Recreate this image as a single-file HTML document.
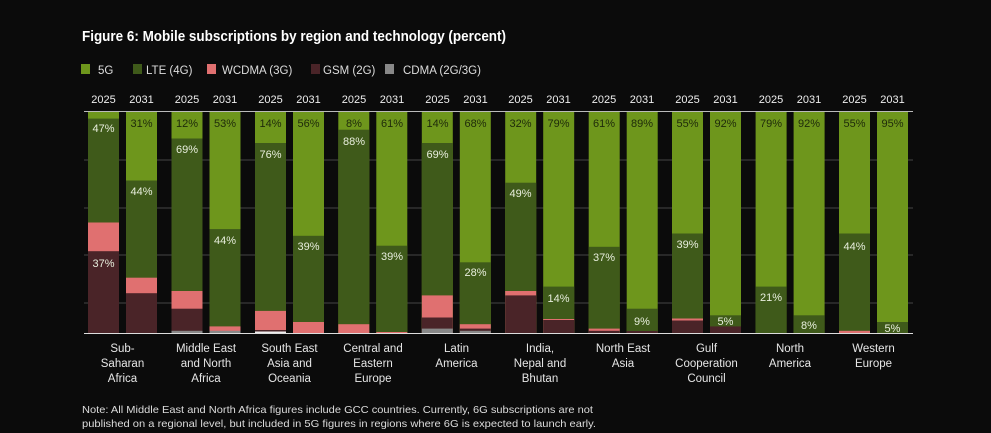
<!DOCTYPE html>
<html><head><meta charset="utf-8"><style>
html,body{margin:0;padding:0;background:#0b0b0b;}
svg{display:block;font-family:"Liberation Sans",sans-serif;}
</style></head><body>
<svg width="991" height="433" viewBox="0 0 991 433" xmlns="http://www.w3.org/2000/svg">
<rect width="991" height="433" fill="#0b0b0b"/>
<text x="82" y="41" fill="#fff" font-size="14.5" font-weight="bold" textLength="424" lengthAdjust="spacingAndGlyphs">Figure 6: Mobile subscriptions by region and technology (percent)</text>
<g font-size="11.5" fill="#ddd">
<rect x="81" y="64" width="9" height="10" fill="#6e961c"/><text x="98" y="74">5G</text>
<rect x="133" y="64" width="9" height="10" fill="#3f5a1a"/><text x="146" y="74">LTE (4G)</text>
<rect x="207" y="64" width="9" height="10" fill="#e07070"/><text x="222" y="74">WCDMA (3G)</text>
<rect x="311" y="64" width="9" height="10" fill="#4a2428"/><text x="323" y="74">GSM (2G)</text>
<rect x="385" y="64" width="9" height="10" fill="#888"/><text x="403" y="74">CDMA (2G/3G)</text>
</g>
<g stroke="#444" stroke-width="1">
<line x1="84" y1="160" x2="913" y2="160"/><line x1="84" y1="208" x2="913" y2="208"/>
<line x1="84" y1="255" x2="913" y2="255"/><line x1="84" y1="303" x2="913" y2="303"/>
</g>
<line x1="84" y1="111.5" x2="913" y2="111.5" stroke="#bbb" stroke-width="1"/>
<g font-size="11" fill="#eee" text-anchor="middle">
<text x="103.5" y="103">2025</text><text x="141.5" y="103">2031</text>
<text x="187" y="103">2025</text><text x="225" y="103">2031</text>
<text x="270.5" y="103">2025</text><text x="308.5" y="103">2031</text>
<text x="354" y="103">2025</text><text x="392" y="103">2031</text>
<text x="437.5" y="103">2025</text><text x="475.5" y="103">2031</text>
<text x="520.5" y="103">2025</text><text x="558.5" y="103">2031</text>
<text x="604" y="103">2025</text><text x="642" y="103">2031</text>
<text x="687.5" y="103">2025</text><text x="725.5" y="103">2031</text>
<text x="771" y="103">2025</text><text x="809" y="103">2031</text>
<text x="854.5" y="103">2025</text><text x="892.5" y="103">2031</text>
</g>
<g>
<rect x="88" y="112" width="31" height="221" fill="#6e961c"/><rect x="88" y="118.6" width="31" height="214.4" fill="#3f5a1a"/><rect x="88" y="222.5" width="31" height="110.5" fill="#e07070"/><rect x="88" y="251.2" width="31" height="81.8" fill="#4a2428"/>
<rect x="126" y="112" width="31" height="221" fill="#6e961c"/><rect x="126" y="180.5" width="31" height="152.5" fill="#3f5a1a"/><rect x="126" y="277.7" width="31" height="55.3" fill="#e07070"/><rect x="126" y="293.2" width="31" height="39.8" fill="#4a2428"/>
<rect x="171.5" y="112" width="31" height="221" fill="#6e961c"/><rect x="171.5" y="138.5" width="31" height="194.5" fill="#3f5a1a"/><rect x="171.5" y="291" width="31" height="42" fill="#e07070"/><rect x="171.5" y="308.7" width="31" height="24.3" fill="#4a2428"/><rect x="171.5" y="330.8" width="31" height="2.2" fill="#888"/>
<rect x="209.5" y="112" width="31" height="221" fill="#6e961c"/><rect x="209.5" y="229.1" width="31" height="103.9" fill="#3f5a1a"/><rect x="209.5" y="326.4" width="31" height="6.6" fill="#e07070"/><rect x="209.5" y="330.8" width="31" height="2.2" fill="#888"/>
<rect x="255" y="112" width="31" height="221" fill="#6e961c"/><rect x="255" y="143" width="31" height="190" fill="#3f5a1a"/><rect x="255" y="310.9" width="31" height="22.1" fill="#e07070"/><rect x="255" y="330" width="31" height="1.5" fill="#4a2428"/><rect x="255" y="331.5" width="31" height="1.5" fill="#eee"/>
<rect x="293" y="112" width="31" height="221" fill="#6e961c"/><rect x="293" y="235.8" width="31" height="97.2" fill="#3f5a1a"/><rect x="293" y="322" width="31" height="11" fill="#e07070"/>
<rect x="338.3" y="112" width="31" height="221" fill="#6e961c"/><rect x="338.3" y="129.7" width="31" height="203.3" fill="#3f5a1a"/><rect x="338.3" y="324.2" width="31" height="8.8" fill="#e07070"/>
<rect x="376.3" y="112" width="31" height="221" fill="#6e961c"/><rect x="376.3" y="245.7" width="31" height="87.3" fill="#3f5a1a"/><rect x="376.3" y="332" width="31" height="1" fill="#e07070"/>
<rect x="421.8" y="112" width="31" height="221" fill="#6e961c"/><rect x="421.8" y="143" width="31" height="190" fill="#3f5a1a"/><rect x="421.8" y="295.4" width="31" height="37.6" fill="#e07070"/><rect x="421.8" y="317.5" width="31" height="15.5" fill="#4a2428"/><rect x="421.8" y="328.6" width="31" height="4.4" fill="#888"/>
<rect x="459.8" y="112" width="31" height="221" fill="#6e961c"/><rect x="459.8" y="262.3" width="31" height="70.7" fill="#3f5a1a"/><rect x="459.8" y="324.2" width="31" height="8.8" fill="#e07070"/><rect x="459.8" y="328.6" width="31" height="4.4" fill="#4a2428"/><rect x="459.8" y="330.8" width="31" height="2.2" fill="#888"/>
<rect x="505.2" y="112" width="31" height="221" fill="#6e961c"/><rect x="505.2" y="182.7" width="31" height="150.3" fill="#3f5a1a"/><rect x="505.2" y="291" width="31" height="42" fill="#e07070"/><rect x="505.2" y="295.4" width="31" height="37.6" fill="#4a2428"/>
<rect x="543.2" y="112" width="31" height="221" fill="#6e961c"/><rect x="543.2" y="286.6" width="31" height="46.4" fill="#3f5a1a"/><rect x="543.2" y="319" width="31" height="14" fill="#e07070"/><rect x="543.2" y="320" width="31" height="13" fill="#4a2428"/>
<rect x="588.7" y="112" width="31" height="221" fill="#6e961c"/><rect x="588.7" y="246.8" width="31" height="86.2" fill="#3f5a1a"/><rect x="588.7" y="328.6" width="31" height="4.4" fill="#e07070"/><rect x="588.7" y="330.8" width="31" height="2.2" fill="#4a2428"/>
<rect x="626.7" y="112" width="31" height="221" fill="#6e961c"/><rect x="626.7" y="308.7" width="31" height="24.3" fill="#3f5a1a"/><rect x="626.7" y="331" width="31" height="2" fill="#4a2428"/>
<rect x="672" y="112" width="31" height="221" fill="#6e961c"/><rect x="672" y="233.5" width="31" height="99.5" fill="#3f5a1a"/><rect x="672" y="318.5" width="31" height="14.5" fill="#e07070"/><rect x="672" y="320.5" width="31" height="12.5" fill="#4a2428"/>
<rect x="710" y="112" width="31" height="221" fill="#6e961c"/><rect x="710" y="315.3" width="31" height="17.7" fill="#3f5a1a"/><rect x="710" y="326.4" width="31" height="6.6" fill="#4a2428"/>
<rect x="755.6" y="112" width="31" height="221" fill="#6e961c"/><rect x="755.6" y="286.6" width="31" height="46.4" fill="#3f5a1a"/>
<rect x="793.6" y="112" width="31" height="221" fill="#6e961c"/><rect x="793.6" y="315.3" width="31" height="17.7" fill="#3f5a1a"/>
<rect x="839" y="112" width="31" height="221" fill="#6e961c"/><rect x="839" y="233.5" width="31" height="99.5" fill="#3f5a1a"/><rect x="839" y="330.8" width="31" height="2.2" fill="#e07070"/>
<rect x="877" y="112" width="31" height="221" fill="#6e961c"/><rect x="877" y="322" width="31" height="11" fill="#3f5a1a"/>
</g>
<line x1="84" y1="333.5" x2="913" y2="333.5" stroke="#ddd" stroke-width="1"/>
<g font-size="11" text-anchor="middle" fill="#1e2a0a">
<text x="141.5" y="127">31%</text>
<text x="187" y="127">12%</text><text x="225" y="127">53%</text>
<text x="270.5" y="127">14%</text><text x="308.5" y="127">56%</text>
<text x="354" y="127">8%</text><text x="392" y="127">61%</text>
<text x="437.5" y="127">14%</text><text x="475.5" y="127">68%</text>
<text x="520.5" y="127">32%</text><text x="558.5" y="127">79%</text>
<text x="604" y="127">61%</text><text x="642" y="127">89%</text>
<text x="687.5" y="127">55%</text><text x="725.5" y="127">92%</text>
<text x="771" y="127">79%</text><text x="809" y="127">92%</text>
<text x="854.5" y="127">55%</text><text x="892.5" y="127">95%</text>
</g>
<g font-size="11" text-anchor="middle" fill="#e8eedd">
<text x="103.5" y="132">47%</text><text x="103.5" y="267">37%</text>
<text x="141.5" y="195">44%</text>
<text x="187" y="153">69%</text><text x="225" y="244">44%</text>
<text x="270.5" y="158">76%</text><text x="308.5" y="250">39%</text>
<text x="354" y="145">88%</text><text x="392" y="260">39%</text>
<text x="437.5" y="158">69%</text><text x="475.5" y="276">28%</text>
<text x="520.5" y="197">49%</text><text x="558.5" y="302">14%</text>
<text x="604" y="261">37%</text><text x="642" y="325">9%</text>
<text x="687.5" y="248">39%</text><text x="725.5" y="325">5%</text>
<text x="771" y="301">21%</text><text x="809" y="329">8%</text>
<text x="854.5" y="250">44%</text><text x="892.5" y="332">5%</text>
</g>
<g font-size="11.5" text-anchor="middle" fill="#e6e6e6">
<text x="122.5" y="352">Sub-</text><text x="122.5" y="367">Saharan</text><text x="122.5" y="382">Africa</text>
<text x="206" y="352">Middle East</text><text x="206" y="367">and North</text><text x="206" y="382">Africa</text>
<text x="289.5" y="352">South East</text><text x="289.5" y="367">Asia and</text><text x="289.5" y="382">Oceania</text>
<text x="373" y="352">Central and</text><text x="373" y="367">Eastern</text><text x="373" y="382">Europe</text>
<text x="456.5" y="352">Latin</text><text x="456.5" y="367">America</text>
<text x="540" y="352">India,</text><text x="540" y="367">Nepal and</text><text x="540" y="382">Bhutan</text>
<text x="623" y="352">North East</text><text x="623" y="367">Asia</text>
<text x="706.5" y="352">Gulf</text><text x="706.5" y="367">Cooperation</text><text x="706.5" y="382">Council</text>
<text x="790" y="352">North</text><text x="790" y="367">America</text>
<text x="873.5" y="352">Western</text><text x="873.5" y="367">Europe</text>
</g>
<g font-size="10.5" fill="#dcdcdc">
<text x="82" y="413" textLength="511" lengthAdjust="spacingAndGlyphs">Note: All Middle East and North Africa figures include GCC countries. Currently, 6G subscriptions are not</text>
<text x="82" y="427" textLength="514" lengthAdjust="spacingAndGlyphs">published on a regional level, but included in 5G figures in regions where 6G is expected to launch early.</text>
</g>
</svg>
</body></html>
